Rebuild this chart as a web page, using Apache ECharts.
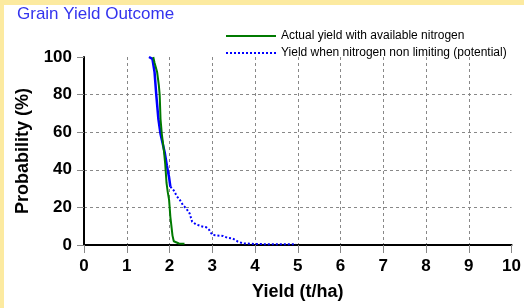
<!DOCTYPE html>
<html>
<head>
<meta charset="utf-8">
<script src="https://cdn.jsdelivr.net/npm/echarts@6/dist/echarts.min.js"></script>
<style>
html,body{margin:0;padding:0;background:#fff;}
#chart{width:524px;height:308px;}
</style>
</head>
<body>
<div id="chart"></div>
<script>
// Data: [yield t/ha, probability %]
var actualYield = [[1.62,100],[1.65,97],[1.71,92],[1.75,85],[1.77,80],[1.79,67],[1.82,59],[1.87,50],[1.90,43],[1.93,33],[1.96,28],[1.99,24],[2.02,15],[2.05,9],[2.07,5],[2.10,2],[2.13,1],[2.22,0.8],[2.35,0.6]];
var potentialYield = [[1.52,100],[1.60,99],[1.65,92],[1.69,80],[1.74,67],[1.79,59],[1.84,54],[1.89,49],[1.94,42],[1.99,36],[2.02,31],[2.10,29],[2.17,26],[2.24,24],[2.32,21],[2.39,19.5],[2.47,16.8],[2.53,12.4],[2.62,11],[2.74,10],[2.86,9.4],[2.93,8],[2.97,6.5],[3.01,5.3],[3.25,4.8],[3.36,3.8],[3.48,3.4],[3.60,1.8],[3.71,0.9],[4.02,0.5],[4.50,0.4],[4.96,0.4]];
var seriesNames = ['Actual yield with available nitrogen','Yield when nitrogen non limiting (potential)'];
var titleText = 'Grain Yield Outcome';
var xName = 'Yield (t/ha)';
var yName = 'Probability (%)';

var splitIdx = 10;
var potentialSolid = potentialYield.slice(0, splitIdx + 1);
var potentialDotted = potentialYield.slice(splitIdx);

var FONT = 'Liberation Sans, Arial, sans-serif';
var chart = echarts.init(document.getElementById('chart'), null, {renderer:'canvas'});
chart.setOption({
  backgroundColor:'#ffffff',
  animation:false,
  graphic:[
    {type:'rect', shape:{x:0,y:0,width:524,height:5}, style:{fill:'#FCEAA0'}, silent:true},
    {type:'rect', shape:{x:0,y:0,width:4,height:308}, style:{fill:'#FCEAA0'}, silent:true}
  ],
  title:{
    text:titleText, left:17, top:6, padding:0,
    textStyle:{color:'#3333EE', fontSize:17, fontWeight:'normal', fontFamily:FONT}
  },
  legend:{
    orient:'vertical', left:225, top:30, padding:0,
    itemWidth:50, itemHeight:10, itemGap:5,
    textStyle:{color:'#000', fontSize:12, fontFamily:FONT},
    itemStyle:{opacity:0},
    data:[
      {name:seriesNames[0], itemStyle:{opacity:0}},
      {name:seriesNames[1], itemStyle:{opacity:0}, lineStyle:{type:[2,2], width:2, color:'#0000FF'}}
    ]
  },
  grid:{left:84, right:11, top:57, bottom:63, containLabel:false},
  xAxis:{
    type:'value', min:0, max:10, interval:1,
    name:xName, nameLocation:'middle', nameGap:38,
    nameTextStyle:{color:'#000', fontSize:18, fontWeight:'bold', fontFamily:FONT},
    axisLine:{show:true, lineStyle:{color:'#000', width:2}},
    axisTick:{show:true, length:8, lineStyle:{color:'#888', width:1}},
    axisLabel:{color:'#000', fontSize:17, fontWeight:'bold', fontFamily:FONT, margin:13},
    splitLine:{show:true, showMaxLine:false, lineStyle:{color:'#888', type:[3,3], width:1}}
  },
  yAxis:{
    type:'value', min:0, max:100, interval:20,
    name:yName, nameLocation:'middle', nameGap:52,
    nameTextStyle:{color:'#000', fontSize:18, fontWeight:'bold', fontFamily:FONT},
    axisLine:{show:true, lineStyle:{color:'#000', width:2}},
    axisTick:{show:true, length:7, lineStyle:{color:'#888', width:1}},
    axisLabel:{color:'#000', fontSize:17, fontWeight:'bold', fontFamily:FONT, margin:12},
    splitLine:{show:true, showMaxLine:false, lineStyle:{color:'#888', type:[3,3], width:1}}
  },
  series:[
    {name:seriesNames[1], type:'line', data:potentialDotted, symbol:'none', z:3,
     lineStyle:{color:'#0000FF', width:2, type:[2,2]}, itemStyle:{color:'#0000FF'}},
    {name:seriesNames[1], type:'line', data:potentialSolid, symbol:'none', z:3,
     lineStyle:{color:'#0000FF', width:2.5, type:'solid'}, itemStyle:{color:'#0000FF'}},
    {name:seriesNames[0], type:'line', data:actualYield, symbol:'none', z:4,
     lineStyle:{color:'#007A00', width:2}, itemStyle:{color:'#007A00'}}
  ]
});
</script>
</body>
</html>
